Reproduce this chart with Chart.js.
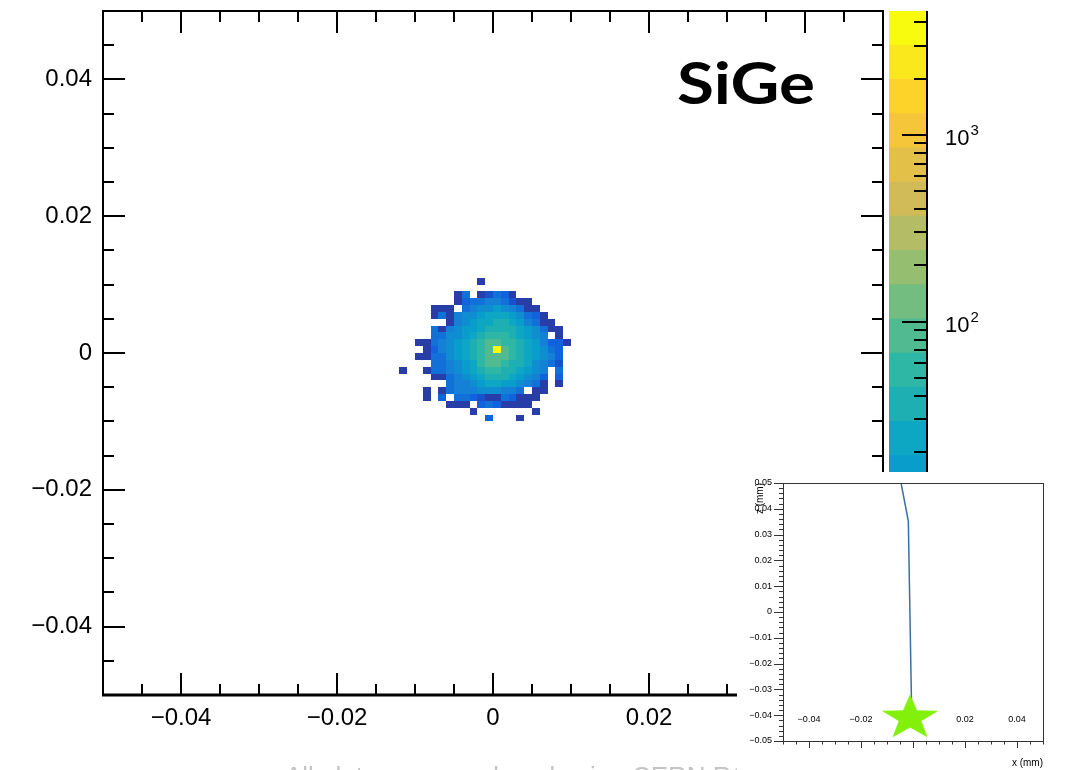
<!DOCTYPE html>
<html>
<head>
<meta charset="utf-8">
<title>SiGe beam spot</title>
<script src="https://cdn.jsdelivr.net/npm/chart.js@4.4.1/dist/chart.umd.min.js"></script>
<style>
  html, body { margin: 0; padding: 0; background: #fff; }
  #page { position: relative; width: 1070px; height: 770px; overflow: hidden; }
  #page canvas { position: absolute; }
  #inset { background: #fff; }
</style>
</head>
<body>
<div id="page">
  <canvas id="main" width="1070" height="770" style="left:0;top:0"></canvas>
  <canvas id="palette" width="181" height="770" style="left:889px;top:0"></canvas>
  <canvas id="inset" width="333" height="298" style="left:737px;top:472px"></canvas>
</div>
<script>
// ---- 2D histogram (x vs y, mm), bins of 0.001 mm ----
const binWidth = 0.001;
const firstBinX = -0.012;   // low edge of first column
const firstBinY = 0.010;    // low edge of first (top) row
// rows go from y = 0.010 down to y = -0.010, columns from x = -0.012 to 0.009
const binCounts = [
  [0,0,0,0,0,0,0,0,0,0,1,0,0,0,0,0,0,0,0,0,0,0],
  [0,0,0,0,0,0,0,0,0,0,0,0,0,0,0,0,0,0,0,0,0,0],
  [0,0,0,0,0,0,0,1,4,0,1,2,4,3,1,0,0,0,0,0,0,0],
  [0,0,0,0,0,0,0,1,3,4,4,7,7,4,2,1,1,0,0,0,0,0],
  [0,0,0,0,1,1,1,0,4,7,11,11,16,11,7,4,1,1,0,0,0,0],
  [0,0,0,0,1,4,1,7,11,11,16,25,25,25,16,11,4,3,1,0,0,0],
  [0,0,0,0,0,0,1,7,11,16,25,25,35,35,25,16,7,4,1,1,0,0],
  [0,0,0,0,4,1,7,11,16,16,25,35,35,35,35,25,16,11,4,1,1,0],
  [0,0,0,0,4,4,11,11,16,25,35,55,55,55,35,25,16,11,7,0,1,0],
  [0,0,1,1,4,7,11,16,25,35,55,85,85,55,55,35,25,16,7,3,3,1],
  [0,0,0,1,3,7,11,16,25,35,55,85,4300,85,55,35,25,16,11,4,3,0],
  [0,0,1,1,4,4,11,16,25,35,55,85,85,85,55,35,25,16,11,7,3,0],
  [0,0,0,0,4,4,7,11,16,25,55,85,85,55,35,35,25,11,7,4,2,0],
  [1,0,0,1,4,4,7,11,16,25,35,55,55,35,35,25,16,11,7,0,4,0],
  [0,0,0,0,1,1,4,7,11,16,25,35,35,35,25,16,11,7,3,0,3,0],
  [0,0,0,0,0,0,4,7,7,11,16,25,25,16,16,11,7,4,1,0,1,0],
  [0,0,0,1,0,1,4,7,7,7,11,11,11,7,7,4,0,1,1,0,0,0],
  [0,0,0,1,0,3,0,4,4,3,2,1,1,4,3,1,1,1,0,0,0,0],
  [0,0,0,0,0,0,1,1,1,0,3,4,3,1,1,1,1,0,0,0,0,0],
  [0,0,0,0,0,0,0,0,0,1,0,0,0,0,0,0,0,1,0,0,0,0],
  [0,0,0,0,0,0,0,0,0,0,0,3,0,0,0,1,0,0,0,0,0,0]
];
const axisTicks = [-0.04, -0.02, 0, 0.02, 0.04];

// colour axis (log scale)
const zMin = 1;
const zMax = 4600;
const nLevels = 20;
const zLabels = [1, 10, 100, 1000];

// ---- inset: track in the x-z plane ----
const insetTicks = [-0.05, -0.04, -0.03, -0.02, -0.01, 0, 0.01, 0.02, 0.03, 0.04, 0.05];
const insetXLabels = [-0.04, -0.02, 0, 0.02, 0.04];
const trackX = [-0.0046, -0.0018, -0.0006, -0.0009];
const trackZ = [0.05, 0.0352, -0.034, -0.041];
const vertexX = [-0.00115];
const vertexZ = [-0.0411];

Chart.defaults.font.family = '"Liberation Sans", Arial, Helvetica, sans-serif';
Chart.defaults.color = '#000';

// ROOT kBird palette
const birdStops = [0, 0.125, 0.25, 0.375, 0.5, 0.625, 0.75, 0.875, 1];
const birdR = [0.2082, 0.0592, 0.0780, 0.0232, 0.1802, 0.5301, 0.8186, 0.9956, 0.9764];
const birdG = [0.1664, 0.3599, 0.5041, 0.6419, 0.7178, 0.7492, 0.7328, 0.7862, 0.9832];
const birdB = [0.5293, 0.8684, 0.8385, 0.7914, 0.6425, 0.4662, 0.3499, 0.1968, 0.0539];

function birdColor(t) {
  let i = 0;
  while (i < birdStops.length - 2 && t > birdStops[i + 1]) i++;
  const f = (t - birdStops[i]) / (birdStops[i + 1] - birdStops[i]);
  const mix = a => Math.round(255 * (a[i] + f * (a[i + 1] - a[i])));
  return `rgb(${mix(birdR)},${mix(birdG)},${mix(birdB)})`;
}
function levelColor(level) {
  const idx = Math.floor((level + 0.99) * 255 / nLevels);
  return birdColor(Math.min(idx, 254) / 254);
}
function levelOf(count) {
  const f = Math.log10(count / zMin) / Math.log10(zMax / zMin);
  return Math.max(0, Math.min(nLevels - 1, Math.floor(f * nLevels)));
}
function fmtTick(v) {
  if (Math.abs(v) < 1e-9) return '0';
  return (v < 0 ? '\u2212' : '') + Math.abs(v).toFixed(2);
}
function line(ctx, x1, y1, x2, y2) {
  ctx.beginPath(); ctx.moveTo(x1, y1); ctx.lineTo(x2, y2); ctx.stroke();
}
// keep the plot frame exactly where the layout padding puts it
function noScalePadding(s) {
  s.paddingTop = 0; s.paddingBottom = 0; s.paddingLeft = 0; s.paddingRight = 0;
}

// ---------- main histogram ----------
const heatmapPlugin = {
  id: 'heatmap',
  beforeDatasetsDraw(chart) {
    const { ctx, chartArea, scales: { x, y } } = chart;
    ctx.save();
    ctx.beginPath();
    ctx.rect(chartArea.left, chartArea.top, chartArea.width, chartArea.height);
    ctx.clip();
    binCounts.forEach((row, r) => {
      const yLo = firstBinY - r * binWidth;
      const yTop = Math.round(y.getPixelForValue(yLo + binWidth));
      const yBot = Math.round(y.getPixelForValue(yLo));
      row.forEach((count, k) => {
        if (!count) return;
        const xLo = firstBinX + k * binWidth;
        const xl = Math.round(x.getPixelForValue(xLo));
        const xr = Math.round(x.getPixelForValue(xLo + binWidth));
        ctx.fillStyle = levelColor(levelOf(count));
        ctx.fillRect(xl, yTop, xr - xl, yBot - yTop);
      });
    });
    ctx.restore();
  },
  afterDraw(chart) {
    const { ctx, chartArea: a, scales: { x, y } } = chart;
    ctx.save();
    ctx.strokeStyle = '#000';
    ctx.lineWidth = 2;
    ctx.strokeRect(a.left, a.top, a.right - a.left, a.bottom - a.top);
    ctx.lineWidth = 3;
    line(ctx, a.left - 1, a.bottom, a.right + 1, a.bottom);
    ctx.lineWidth = 2;
    for (let i = -9; i <= 9; i++) {
      const v = i * 0.005;
      const len = i % 4 === 0 ? 22 : 11;
      const px = Math.round(x.getPixelForValue(v));
      line(ctx, px, a.bottom, px, a.bottom - len);
      line(ctx, px, a.top, px, a.top + len);
      const py = Math.round(y.getPixelForValue(v));
      line(ctx, a.left, py, a.left + len, py);
      line(ctx, a.right, py, a.right - len, py);
    }
    // material label
    ctx.fillStyle = '#000';
    ctx.font = 'bold 58px Lato, "Open Sans", sans-serif';
    ctx.textBaseline = 'alphabetic';
    const w = ctx.measureText('SiGe').width;
    ctx.translate(677, 104);
    ctx.scale(138 / w, 1);
    ctx.fillText('SiGe', 0, 0);
    ctx.restore();
    // clipped footer line
    ctx.save();
    ctx.fillStyle = '#c4c4c4';
    ctx.font = '26px "Liberation Sans", Arial, sans-serif';
    ctx.textBaseline = 'alphabetic';
    ctx.fillText('All plots were produced using CERN ROOT', 285, 785);
    ctx.restore();
  }
};

new Chart(document.getElementById('main'), {
  type: 'scatter',
  data: { datasets: [{ data: [] }] },
  options: {
    responsive: false,
    animation: false,
    layout: { padding: { left: 0, right: 187, top: 11, bottom: 0 } },
    plugins: { legend: { display: false }, tooltip: { enabled: false } },
    scales: {
      x: {
        type: 'linear', min: -0.05, max: 0.05,
        grid: { display: false, drawTicks: false }, border: { display: false },
        afterBuildTicks: s => { s.ticks = axisTicks.map(v => ({ value: v })); },
        afterFit: s => { s.height = 75; noScalePadding(s); },
        ticks: { font: { size: 24 }, color: '#000', padding: 9, maxRotation: 0, autoSkip: false, callback: fmtTick }
      },
      y: {
        type: 'linear', min: -0.05, max: 0.05,
        grid: { display: false, drawTicks: false }, border: { display: false },
        afterBuildTicks: s => { s.ticks = axisTicks.map(v => ({ value: v })); },
        afterFit: s => { s.width = 103; noScalePadding(s); },
        ticks: { font: { size: 24 }, color: '#000', padding: 11, autoSkip: false, callback: fmtTick }
      }
    }
  },
  plugins: [heatmapPlugin]
});

// ---------- colour palette axis ----------
const bandEdges = [];
for (let i = 0; i <= nLevels; i++) bandEdges.push(zMin * Math.pow(zMax / zMin, i / nLevels));

const paletteAxisPlugin = {
  id: 'paletteAxis',
  afterDraw(chart) {
    const { ctx, chartArea: a, scales: { y } } = chart;
    ctx.save();
    ctx.strokeStyle = '#000';
    ctx.lineWidth = 2;
    line(ctx, a.right, a.top, a.right, a.bottom);
    for (let d = 1; d <= zMax; d *= 10) {
      for (let m = 1; m <= 9; m++) {
        const v = m * d;
        if (v < zMin || v > zMax) continue;
        const py = Math.round(y.getPixelForValue(v));
        line(ctx, a.right, py, a.right - (m === 1 ? 25 : 13), py);
      }
    }
    ctx.fillStyle = '#000';
    ctx.textBaseline = 'middle';
    zLabels.forEach(v => {
      const py = y.getPixelForValue(v) + 4;
      const exp = Math.round(Math.log10(v));
      const lx = a.right + 18;
      ctx.font = '22px "Liberation Sans", Arial, sans-serif';
      const base = exp < 2 ? String(v) : '10';
      ctx.fillText(base, lx, py);
      if (exp >= 2) {
        const bw = ctx.measureText(base).width;
        ctx.font = '15px "Liberation Sans", Arial, sans-serif';
        ctx.fillText(String(exp), lx + bw + 1, py - 8);
      }
    });
    ctx.restore();
  }
};

new Chart(document.getElementById('palette'), {
  type: 'bar',
  data: {
    labels: ['z'],
    datasets: bandEdges.slice(0, -1).map((lo, i) => ({
      data: [[lo, bandEdges[i + 1]]],
      backgroundColor: levelColor(i),
      borderWidth: 0,
      grouped: false,
      barPercentage: 1,
      categoryPercentage: 1
    }))
  },
  options: {
    responsive: false,
    animation: false,
    layout: { padding: { left: 0, right: 0, top: 11, bottom: 75 } },
    plugins: { legend: { display: false }, tooltip: { enabled: false } },
    scales: {
      x: { display: false },
      y: {
        type: 'logarithmic', position: 'right', min: zMin, max: zMax,
        grid: { display: false }, border: { display: false },
        ticks: { display: false },
        afterFit: s => { s.width = 143; noScalePadding(s); }
      }
    }
  },
  plugins: [paletteAxisPlugin]
});

// ---------- inset ----------
function makeStar(rx, ry, color) {
  const c = document.createElement('canvas');
  c.width = Math.ceil(rx * 2) + 2;
  c.height = Math.ceil(ry * 2) + 2;
  const g = c.getContext('2d');
  g.translate(c.width / 2, c.height / 2);
  g.beginPath();
  for (let i = 0; i < 10; i++) {
    const r = i % 2 ? 0.4 : 1;
    const ang = -Math.PI / 2 + i * Math.PI / 5;
    g.lineTo(Math.cos(ang) * rx * r, Math.sin(ang) * ry * r);
  }
  g.closePath();
  g.fillStyle = color;
  g.fill();
  return c;
}

const insetAxisPlugin = {
  id: 'insetAxis',
  beforeDatasetsDraw(chart) {
    const { ctx, chartArea: a, scales: { x } } = chart;
    ctx.save();
    ctx.fillStyle = '#000';
    ctx.font = '9px "Liberation Sans", Arial, sans-serif';
    ctx.textAlign = 'center';
    ctx.textBaseline = 'middle';
    insetXLabels.forEach(v => ctx.fillText(fmtTick(v), x.getPixelForValue(v), a.bottom - 21));
    ctx.restore();
  },
  afterDraw(chart) {
    const { ctx, chartArea: a, scales: { x, y } } = chart;
    ctx.save();
    ctx.strokeStyle = '#333';
    ctx.lineWidth = 1;
    ctx.strokeRect(a.left + 0.5, a.top + 0.5, a.right - a.left, a.bottom - a.top);
    for (let i = -25; i <= 25; i++) {
      const py = Math.round(y.getPixelForValue(i * 0.002)) + 0.5;
      line(ctx, a.left, py, a.left - (i % 5 === 0 ? 9 : 4), py);
    }
    for (let i = -10; i <= 10; i++) {
      const px = Math.round(x.getPixelForValue(i * 0.005)) + 0.5;
      line(ctx, px, a.bottom, px, a.bottom + (i % 4 === 0 ? 7 : 3.5));
    }
    ctx.fillStyle = '#000';
    ctx.font = '10px "Liberation Sans", Arial, sans-serif';
    ctx.textBaseline = 'middle';
    ctx.textAlign = 'right';
    ctx.fillText('x (mm)', a.right, 291);
    ctx.translate(23, a.top);
    ctx.rotate(-Math.PI / 2);
    ctx.fillText('z (mm)', 0, 0);
    ctx.restore();
  }
};

new Chart(document.getElementById('inset'), {
  type: 'scatter',
  data: {
    datasets: [
      {
        data: vertexX.map((v, i) => ({ x: v, y: vertexZ[i] })),
        pointStyle: makeStar(29.8, 23.8, '#82f00a'),
        pointRadius: 5,
        showLine: false
      },
      {
        data: trackX.map((v, i) => ({ x: v, y: trackZ[i] })),
        showLine: true,
        borderColor: '#3b6ea5',
        borderWidth: 1.5,
        pointRadius: 0
      }
    ]
  },
  options: {
    responsive: false,
    animation: false,
    layout: { padding: { left: 0, right: 27, top: 11, bottom: 0 } },
    plugins: { legend: { display: false }, tooltip: { enabled: false } },
    scales: {
      x: {
        type: 'linear', min: -0.05, max: 0.05,
        grid: { display: false, drawTicks: false }, border: { display: false },
        ticks: { display: false },
        afterFit: s => { s.height = 29; noScalePadding(s); }
      },
      y: {
        type: 'linear', min: -0.05, max: 0.05,
        grid: { display: false, drawTicks: false }, border: { display: false },
        afterBuildTicks: s => { s.ticks = insetTicks.map(v => ({ value: v })); },
        afterFit: s => { s.width = 46; noScalePadding(s); },
        ticks: { font: { size: 9 }, color: '#000', padding: 11, autoSkip: false, callback: fmtTick }
      }
    }
  },
  plugins: [insetAxisPlugin]
});
</script>
</body>
</html>
